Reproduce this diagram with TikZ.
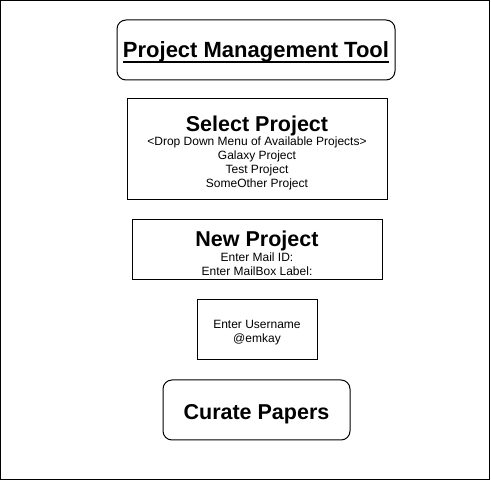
\documentclass[tikz,border=0pt]{standalone}
\usepackage{fontspec}
\setmainfont{Liberation Sans}
\tikzset{panel/.style={draw=black, line width=1pt, inner sep=0pt, align=center,
                       font=\fontsize{12}{14}\selectfont},
         roundpanel/.style={panel, rounded corners=9pt}}
\newcommand{\headfont}{\fontsize{21.5}{25}\selectfont\bfseries}
\newcommand{\topgap}[1]{\rule{0pt}{#1}}
\newcommand{\botgap}[1]{\rule[-#1]{0pt}{#1}}
\newcommand{\thickul}[1]{\setbox0=\hbox{#1}\rlap{\rule[-5.4pt]{\wd0}{2pt}}\box0}

\begin{document}
\begin{tikzpicture}[x=1pt, y=-1pt]
% Frame round everything:
\useasboundingbox (0,0) rectangle (491,481);
\draw[line width=1.3pt] (0.7,0.7) rectangle (489.6,479.6);
% Title:
\node[roundpanel, minimum width=278pt, minimum height=60pt] (title) at (256,50)
     {\topgap{20.6pt}\fontsize{22}{25}\selectfont\bfseries
      \thickul{Project Management Tool}\botgap{6pt}};
% Project choice:
\node[panel, minimum width=260pt, minimum height=101pt] (select) at (257,149.5)
     {\topgap{25pt}{\headfont Select Project}\\
      <Drop Down Menu of Available Projects>\\
      Galaxy Project\\ Test Project\\ SomeOther Project\botgap{4pt}};
% New project:
\node[panel, minimum width=250pt, minimum height=60pt] (newproj) at (257,250)
     {\topgap{27pt}{\headfont New Project}\\[1pt] Enter Mail ID:\\
      Enter MailBox Label:\botgap{4pt}};
% User:
\node[panel, minimum width=120pt, minimum height=60pt] (user) at (257,330)
     {\topgap{14pt}Enter Username\\ @emkay\botgap{3pt}};
% Last step:
\node[roundpanel, minimum width=187pt, minimum height=60pt] (curate) at (256.5,410)
     {\topgap{24pt}\headfont Curate Papers\botgap{4pt}};
\end{tikzpicture}
\end{document}
